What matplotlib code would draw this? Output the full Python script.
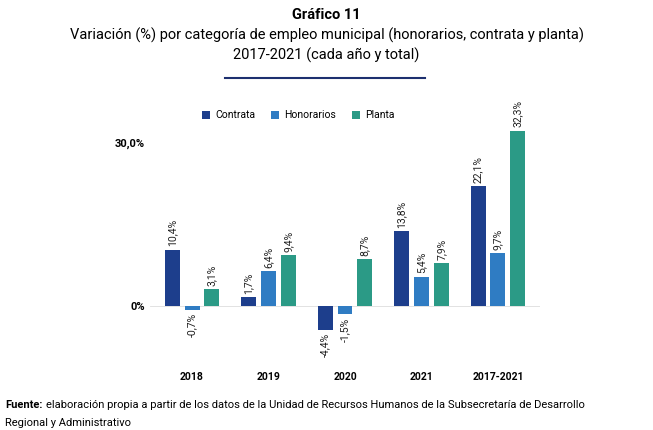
import matplotlib.pyplot as plt
import numpy as np
plt.rcParams['font.family'] = ['Roboto', 'DejaVu Sans']

categories = ["2018", "2019", "2020", "2021", "2017-2021"]
contrata = [10.4, 1.7, -4.4, 13.8, 22.1]
honorarios = [-0.7, 6.4, -1.5, 5.4, 9.7]
planta = [3.1, 9.4, 8.7, 7.9, 32.3]
series = [("Contrata", contrata, "#1d3e8c"), ("Honorarios", honorarios, "#2f7cc3"), ("Planta", planta, "#2b9a86")]

fig = plt.figure(figsize=(6.53, 4.3), dpi=100)
ax = fig.add_axes([150/653, (430-360)/430, 390/653, 240/430])
x = np.arange(len(categories))
w = 0.26
for i, (name, vals, col) in enumerate(series):
    xs = x + (i-1)*w
    ax.bar(xs, vals, w*0.75, color=col, label=name)
    for xi, v in zip(xs, vals):
        s = f"{v:.1f}%".replace(".", ",")
        if v >= 0:
            ax.text(xi, v+0.6, s, rotation=90, ha="center", va="bottom", fontsize=7.5, color="#222")
        else:
            ax.text(xi, v-0.6, s, rotation=90, ha="center", va="top", fontsize=7.5, color="#222")
ax.set_ylim(-9.94, 34.25)
ax.set_xlim(-0.55, 4.55)
ax.set_xticks(x)
ax.set_xticklabels(categories, fontsize=7.5, fontweight="bold")
ax.tick_params(axis="x", length=0, pad=9)
ax.set_yticks([0, 30])
ax.set_yticklabels(["0%", "30,0%"], fontsize=8, fontweight="bold")
ax.tick_params(axis="y", length=0)
for s in ax.spines.values():
    s.set_visible(False)
ax.axhline(0, color="#dddddd", lw=0.6, zorder=0)
ax.legend(loc="upper center", bbox_to_anchor=(0.38, 1.08), ncol=3, frameon=False, fontsize=7.5,
          handlelength=0.8, handleheight=0.8, columnspacing=1.5, handletextpad=0.5)

fig.text(0.5, 1-15/430, "Gráfico 11", ha="center", va="center", fontsize=10.5, fontweight="bold")
fig.text(0.5, 1-35/430, "Variación (%) por categoría de empleo municipal (honorarios, contrata y planta)", ha="center", va="center", fontsize=10.5)
fig.text(0.5, 1-55/430, "2017-2021 (cada año y total)", ha="center", va="center", fontsize=10.5)
fig.add_artist(plt.Line2D([225/653, 425/653], [1-78/430, 1-78/430], color="#1d2f6f", lw=1.5))
t = fig.text(5/653, 1-405/430, "Fuente:", ha="left", va="center", fontsize=8, fontweight="bold")
r = fig.canvas.get_renderer()
bb = t.get_window_extent(r)
fig.text((bb.x1 + 3)/653, 1-405/430, "elaboración propia a partir de los datos de la Unidad de Recursos Humanos de la Subsecretaría de Desarrollo", ha="left", va="center", fontsize=8)
fig.text(5/653, 1-423/430, "Regional y Administrativo", ha="left", va="center", fontsize=8)
fig.savefig("out.png", dpi=100)
